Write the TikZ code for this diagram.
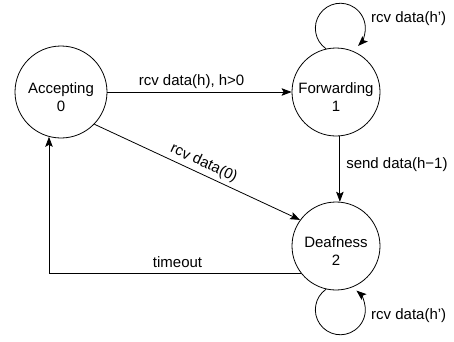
\documentclass[tikz,border=0pt]{standalone}
\usepackage{fontspec}
\setmainfont{Liberation Sans}
\usetikzlibrary{arrows.meta}
\begin{document}
\begin{tikzpicture}[x=1pt,y=1pt,
  every node/.style={font=\fontsize{15}{18}\selectfont},
  state/.style={draw, circle, line width=0.8pt, inner sep=0pt, minimum size=88pt},
  statetext/.style={align=center, yshift=-5.5pt, inner sep=0pt},
  edge/.style={line width=0.8pt, -{Stealth[length=10pt,width=7.5pt,inset=2pt]}},
  lbl/.style={inner sep=3.3pt}]
\useasboundingbox (0,0) rectangle (454,341);

% states
\node[state, minimum size=92pt, label={[statetext]center:{Accepting\\0}}] (A) at (61,249) {};
\node[state, label={[statetext]center:{Forwarding\\1}}] (F) at (336,249) {};
\node[state, label={[statetext]center:{Deafness\\2}}] (D) at (336,95) {};

% transitions
\draw[edge] (A.east) -- node[lbl, above, pos=0.457] (lh) {rcv data(h), h>0} (F.west);
\draw[edge] (A.-44) -- node[lbl, above, sloped, pos=0.51] (l0) {rcv data(0)} (D.144);
\draw[edge] (F.-85) -- node[lbl, right, pos=0.43, inner xsep=6pt] (ls) {send data(h−1)} (D.85);
\draw[edge] (D.218) -| node[lbl, above, pos=0.245, inner ysep=5.5pt] (lt) {timeout} (A.255);

% self loops
\draw[edge] (F.103) arc[start angle=235, end angle=-45, radius=25];
\draw[edge] (D.257) arc[start angle=125, end angle=410, radius=25];
\node[lbl, anchor=base west, inner sep=0pt] (lF) at (371,319) {rcv data(h')};
\node[lbl, anchor=base west, inner sep=0pt] (lD) at (371,22) {rcv data(h')};
\end{tikzpicture}
\end{document}
